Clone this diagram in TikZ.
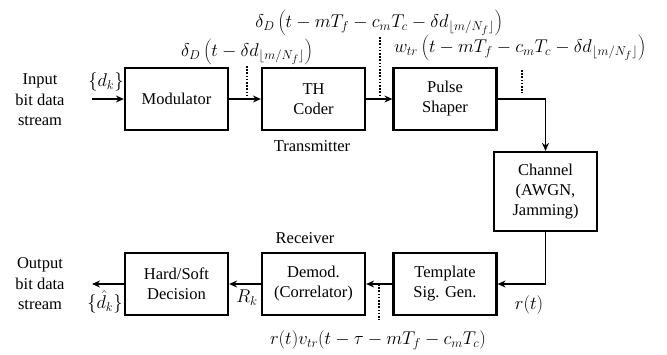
\documentclass[tikz,border=0pt]{standalone}
\usepackage{graphicx}
\usepackage{fontspec}
\setmainfont{Liberation Serif}
\newfontfamily\tnr{Liberation Serif}
\usetikzlibrary{arrows.meta}
\newcommand{\bigf}[1]{\scalebox{1.07}{$#1$}}
\begin{document}
\begin{tikzpicture}[x=1pt,y=-1pt,
  blk/.style={draw, line width=2.2pt, minimum width=103pt, minimum height=62pt, align=center, inner sep=0pt, font=\tnr\fontsize{16.5}{20}\selectfont},
  conn/.style={line width=1.8pt, -{Stealth[length=8pt,width=7pt]}},
  dots/.style={line width=1.8pt, dash pattern=on 1.6pt off 1.6pt},
  lbl/.style={font=\tnr\fontsize{16.5}{20.5}\selectfont, align=center, inner sep=0pt},
  mth/.style={font=\tnr\fontsize{17.28}{21}\selectfont, inner sep=0pt}]
\useasboundingbox (0,0) rectangle (667,354);
% blocks
\node[blk] (mod) at (176.5,99) {Modulator};
\node[blk] (th) at (313.5,99) {TH\\Coder};
\node[blk] (ps) at (445,99) {Pulse\\Shaper};
\node[blk, minimum height=79pt] (ch) at (545.5,191.5) {Channel\\(AWGN,\\Jamming)};
\node[blk] (tsg) at (445,284) {Template\\Sig. Gen.};
\node[blk] (dem) at (313.5,284) {Demod.\\(Correlator)};
\node[blk] (hsd) at (176.5,284) {Hard/Soft\\Decision};
% free ends
\coordinate (in) at (92,99);
\coordinate (out) at (92,284);
% connectors
\draw[conn] (in) -- (mod);
\draw[conn] (mod) -- (th);
\draw[conn] (th) -- (ps);
\draw[conn] (ps.east) -| (ch.north);
\draw[conn] (ch.south) |- (tsg.east);
\draw[conn] (tsg) -- (dem);
\draw[conn] (dem) -- (hsd);
\draw[conn] (hsd) -- (out);
% dotted markers
\coordinate (d1a) at (247,66); \coordinate (d1b) at (247,99);
\coordinate (d2a) at (380,37); \coordinate (d2b) at (380,99);
\coordinate (d3a) at (522,70); \coordinate (d3b) at (522,93);
\coordinate (d4a) at (379,284); \coordinate (d4b) at (379,320);
\draw[dots] (d1a) -- (d1b);
\draw[dots] (d2a) -- (d2b);
\draw[dots] (d3a) -- (d3b);
\draw[dots] (d4a) -- (d4b);
% labels
\node[lbl] (inl) at (40,100) {Input\\bit data\\stream};
\node[lbl] (outl) at (40,284) {Output\\bit data\\stream};
\node[mth] (dk) at (106,82) {\bigf{\{d_k\}}};
\node[mth] (dkh) at (105,302) {\bigf{\{\hat{d}_k\}}};
\node[mth] (rk) at (247,298) {\bigf{R_k}};
\node[mth] (rt) at (529,305) {\bigf{r(t)}};
\node[lbl] (tx) at (312,146) {Transmitter};
\node[lbl] (rx) at (305,238) {Receiver};
\node[mth] (f1) at (247,52) {\bigf{\delta_D\left(t-\delta d_{\lfloor m/N_f\rfloor}\right)}};
\node[mth] (f2) at (379,23) {\bigf{\delta_D\left(t-mT_f-c_mT_c-\delta d_{\lfloor m/N_f\rfloor}\right)}};
\node[mth] (f3) at (520,48) {\bigf{w_{tr}\left(t-mT_f-c_mT_c-\delta d_{\lfloor m/N_f\rfloor}\right)}};
\node[mth] (f4) at (378,340) {\bigf{r(t)v_{tr}(t-\tau-mT_f-c_mT_c)}};
\end{tikzpicture}
\end{document}
